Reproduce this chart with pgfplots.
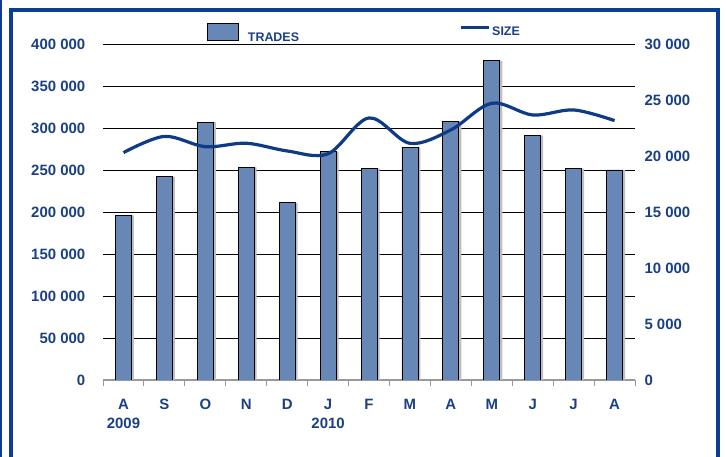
\documentclass[border=0pt]{standalone}
\usepackage{pgfplots}
\pgfplotsset{compat=1.18}
\usepackage{fontspec}
\setmainfont{Liberation Sans}
\definecolor{tcol}{HTML}{1A3F85}
\definecolor{framecol}{HTML}{0B3D91}
\definecolor{barcol}{HTML}{6787B7}
\definecolor{linecol}{HTML}{0E3B86}
\begin{document}
\begin{tikzpicture}[x=1bp,y=1bp]
\useasboundingbox (0,0) rectangle (726,457);
\draw[framecol, line width=1.5bp] (0.75,0) -- (0.75,457);
\draw[framecol, line width=3.5bp] (11,-5) -- (11,447) -- (718,447) -- (718,-5);
\begin{axis}[
  at={(103bp,77bp)}, anchor=south west, scale only axis,
  width=532bp, height=336bp,
  xmin=-0.5, xmax=12.5, ymin=0, ymax=400000,
  scaled y ticks=false,
  axis x line*=bottom, axis y line*=left,
  x axis line style={gray!80, line width=1.5bp, -},
  y axis line style={draw=none},
  ytick={0,50000,100000,150000,200000,250000,300000,350000,400000},
  yticklabels={0,50 000,100 000,150 000,200 000,250 000,300 000,350 000,400 000},
  ymajorgrids, grid style={black, line width=0.7bp},
  major y tick style={draw=none},
  xtick={0,...,12},
  xticklabels={A\\2009,S,O,N,D,J\\2010,F,M,A,M,J,J,A},
  major x tick style={draw=none},
  minor xtick={-0.5,0.5,...,12.5},
  minor x tick style={gray!80, line width=1bp},
  tick align=outside, minor tick length=6bp,
  ticklabel style={font=\bfseries\fontsize{15}{18}\selectfont, text=tcol},
  x tick label style={align=center, yshift=-11bp, font=\bfseries\fontsize{15}{20}\selectfont},
  y tick label style={xshift=-10bp},
  bar width=16bp,
  legend style={at={(0.1955,1.03)}, anchor=west, draw=none, fill=none,
    font=\bfseries\fontsize{12.5}{14}\selectfont, text=tcol, inner sep=0pt},
  legend image code/.code={\draw[draw=black, fill=barcol, line width=0.6bp] (0bp,-2bp) rectangle (31bp,15bp); \path (38bp,0bp);},
]
\addplot[ybar, fill=black!25, draw=none, bar shift=2.5bp, forget plot] coordinates {
(0,196000) (1,242000) (2,307000) (3,253000) (4,211000) (5,272000) (6,252000)
(7,277000) (8,308000) (9,380000) (10,291000) (11,251500) (12,250000)};
\addplot[ybar, fill=barcol, draw=black, line width=0.8bp] coordinates {
(0,196000) (1,242000) (2,307000) (3,253000) (4,211000) (5,272000) (6,252000)
(7,277000) (8,308000) (9,380000) (10,291000) (11,251500) (12,250000)};
\addlegendentry{TRADES}
\end{axis}
\begin{axis}[
  at={(103bp,77bp)}, anchor=south west, scale only axis,
  width=532bp, height=336bp,
  xmin=-0.5, xmax=12.5, ymin=0, ymax=30000,
  scaled y ticks=false,
  hide x axis,
  axis y line*=right,
  y axis line style={draw=none},
  ytick={0,5000,10000,15000,20000,25000,30000},
  yticklabels={0,5 000,10 000,15 000,20 000,25 000,30 000},
  major y tick style={draw=none},
  ticklabel style={font=\bfseries\fontsize{15}{18}\selectfont, text=tcol},
  y tick label style={xshift=6bp},
  legend style={at={(0.669,1.036)}, anchor=west, draw=none, fill=none,
    font=\bfseries\fontsize{12.5}{14}\selectfont, text=tcol, inner sep=0pt},
  legend image code/.code={\draw[linecol, line width=3bp] (0bp,4bp) -- (28bp,4bp); \path (0bp,-2bp);},
]
\addplot[smooth, tension=0.55, linecol, line width=3.2bp] coordinates {
(0,20300) (1,21750) (2,20830) (3,21140) (4,20450) (5,20200) (6,23400)
(7,21130) (8,22330) (9,24710) (10,23660) (11,24110) (12,23160)};
\addlegendentry{SIZE}
\end{axis}
\end{tikzpicture}
\end{document}
